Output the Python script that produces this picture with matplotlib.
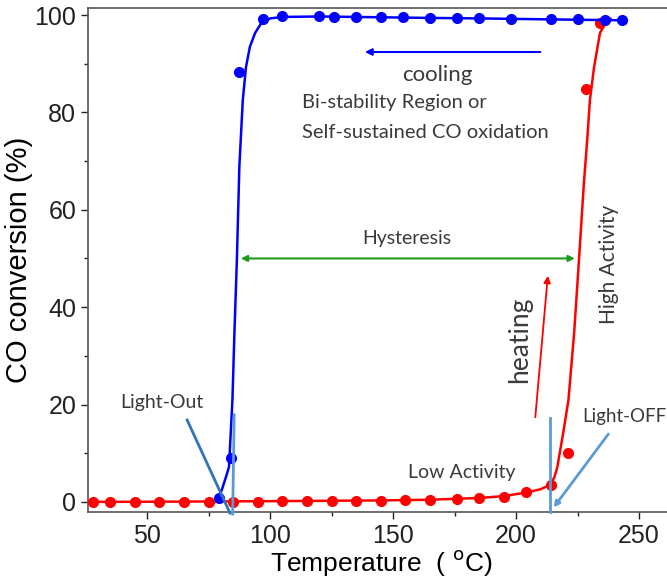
import numpy as np
import matplotlib.pyplot as plt
from matplotlib.ticker import MultipleLocator

# heating run (red) - measured points
heat_T = [28, 35, 45, 55, 65, 75, 85, 95, 105, 115, 125, 135, 145, 155, 165, 176, 185, 195, 204, 214, 221.3, 228.5, 234]
heat_conv = [0, 0, 0, 0, 0, 0, 0, 0.05, 0.1, 0.1, 0.15, 0.2, 0.2, 0.3, 0.4, 0.6, 0.8, 1.0, 2.0, 3.5, 10, 84.8, 98.4]
# heating fit curve
heat_fit_T = [26, 60, 100, 145, 165, 185, 195, 204, 210, 213.8, 215.5, 216.7, 219.1, 221.3, 223.6, 225.6, 227.5, 229, 230, 231.7, 234.1, 236.5, 238.5]
heat_fit_conv = [0, 0.05, 0.15, 0.3, 0.45, 0.8, 1.2, 1.9, 2.6, 3.5, 5, 7, 14, 21, 34.7, 50, 65, 75, 82.5, 89.3, 96.3, 98.5, 99.2]

# cooling run (blue) - measured points
cool_T = [79.3, 84.1, 87.5, 97, 105, 120, 126, 135, 145, 154, 165, 176, 185, 198, 214, 225, 236, 243]
cool_conv = [0.8, 9, 88.2, 99.2, 99.7, 99.7, 99.6, 99.6, 99.5, 99.5, 99.4, 99.3, 99.3, 99.2, 99.1, 99.1, 99.0, 98.9]
cool_fit_T = [78.5, 80.4, 82.3, 83.3, 84.7, 85.5, 86.5, 87.5, 88.9, 90.2, 91.8, 93.9, 96.5, 100, 105, 120, 135, 150, 165, 185, 214, 245]
cool_fit_conv = [0.2, 2.5, 5.5, 7.2, 21, 34.7, 49.7, 68.8, 82.5, 89.3, 93.5, 96.3, 98.4, 99.3, 99.6, 99.7, 99.6, 99.5, 99.4, 99.3, 99.1, 98.9]

fig = plt.figure(figsize=(6.67, 5.85), dpi=100)
ax = fig.add_axes([0.132, 0.125, 0.88, 0.861])

ax.plot(heat_fit_T, heat_fit_conv, color='#ff0000', lw=1.8, zorder=3)
ax.plot(heat_T, heat_conv, 'o', color='#ff0000', ms=7, zorder=3)
ax.plot(cool_fit_T, cool_fit_conv, color='#0000ff', lw=1.8, zorder=4)
ax.plot(cool_T, cool_conv, 'o', color='#0000ff', ms=7, zorder=4)

txt = '#3a3a3a'
tfont = 'Lato'

# cooling arrow and texts
ax.annotate('', xy=(137.4, 92.4), xytext=(211, 92.4),
            arrowprops=dict(arrowstyle='-|>', color='#0000ff', lw=1.5, mutation_scale=10))
ax.text(168, 87.7, 'cooling', fontsize=16, color=txt, family=tfont, ha='center', va='center')
ax.text(113, 82, 'Bi-stability Region or', fontsize=14.5, color=txt, family=tfont, va='center')
ax.text(113, 75.8, 'Self-sustained CO oxidation', fontsize=14.5, color=txt, family=tfont, va='center')

# hysteresis
ax.annotate('', xy=(87, 50), xytext=(225, 50),
            arrowprops=dict(arrowstyle='<|-|>', color='#1e9a1e', lw=1.5, mutation_scale=9))
ax.text(155.7, 54, 'Hysteresis', fontsize=14, color=txt, family=tfont, ha='center', va='center')

# heating arrow
ax.annotate('', xy=(213, 47), xytext=(207.7, 16.8),
            arrowprops=dict(arrowstyle='-|>', color='#ff0000', lw=1.3, mutation_scale=10))
ax.text(201.3, 33.3, 'heating', fontsize=19, color=txt, family=tfont,
        rotation=90, ha='center', va='center')
ax.text(237.6, 48.7, 'High Activity', fontsize=15, color=txt, family=tfont,
        rotation=90, ha='center', va='center')
ax.text(178, 6, 'Low Activity', fontsize=14, color=txt, family=tfont, ha='center', va='center')

# light-off / light-out markers
ax.text(244, 17.5, 'Light-OFF', fontsize=13.5, color=txt, family=tfont, ha='center', va='center')
ax.plot([213.8, 213.8], [17.2, -2], color='#5b9bd5', lw=2, clip_on=False, zorder=5)
ax.annotate('', xy=(214.6, -1.6), xytext=(238.2, 14.4), annotation_clip=False,
            arrowprops=dict(arrowstyle='-|>', color='#5b9bd5', lw=2, mutation_scale=8))
ax.text(56, 20.5, 'Light-Out', fontsize=14, color=txt, family=tfont, ha='center', va='center')
ax.plot([83.7, 66.3], [-2.3, 16.8], color='#2e75b6', lw=2, clip_on=False, zorder=5)
ax.plot([85.4, 84.8], [17.9, -2.5], color='#5b9bd5', lw=2, clip_on=False, zorder=5)

ax.set_xlim(26, 264.6)
ax.set_ylim(-2.05, 101.4)
ax.xaxis.set_major_locator(MultipleLocator(50))
ax.xaxis.set_minor_locator(MultipleLocator(25))
ax.yaxis.set_major_locator(MultipleLocator(20))
ax.yaxis.set_minor_locator(MultipleLocator(10))
ax.tick_params(which='both', direction='out', labelsize=18, colors='#222222')
ax.tick_params(which='major', length=5, width=1)
ax.tick_params(which='minor', length=3, width=1)
for s in ax.spines.values():
    s.set_color('#555555')
    s.set_linewidth(1.2)
ax.spines['right'].set_visible(False)

ax.set_xlabel('Temperature  ( $^\\mathrm{o}$C)', fontsize=19, family='Liberation Sans', labelpad=0)
ax.set_ylabel('CO conversion (%)', fontsize=21, family='Liberation Sans', labelpad=1)
for lab in ax.get_xticklabels() + ax.get_yticklabels():
    lab.set_family('Liberation Sans')

fig.savefig('out.png', dpi=100)
